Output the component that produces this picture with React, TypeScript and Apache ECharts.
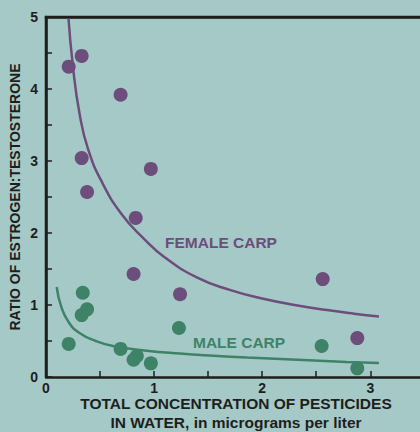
import React, { useEffect, useRef } from "react";
import * as echarts from "echarts";

// Scatter data: [pesticide concentration, E:T ratio]
const femaleX = [0.21, 0.33, 0.69, 0.33, 0.38, 0.97, 0.83, 0.81, 1.24, 2.56, 2.88];
const femaleY = [4.31, 4.46, 3.92, 3.04, 2.57, 2.89, 2.21, 1.43, 1.15, 1.36, 0.54];
const maleX = [0.21, 0.34, 0.38, 0.33, 0.69, 0.81, 0.84, 0.97, 1.23, 2.55, 2.88];
const maleY = [0.46, 1.17, 0.94, 0.86, 0.39, 0.24, 0.29, 0.19, 0.68, 0.43, 0.12];

// Fitted curves
const femaleCurveX = [0.207, 0.25, 0.31, 0.39, 0.52, 0.7, 0.9, 1.1, 1.4, 1.7, 2.0, 2.3, 2.6, 2.85, 3.08];
const femaleCurveY = [5.0, 4.3, 3.66, 3.16, 2.7, 2.26, 1.93, 1.66, 1.38, 1.21, 1.09, 1.0, 0.93, 0.88, 0.84];
const maleCurveX = [0.099, 0.14, 0.21, 0.31, 0.46, 0.62, 0.93, 1.24, 1.55, 1.86, 2.17, 2.48, 2.78, 3.08];
const maleCurveY = [1.25, 0.98, 0.76, 0.61, 0.5, 0.43, 0.365, 0.325, 0.295, 0.27, 0.25, 0.23, 0.21, 0.195];

const xTickLabels = ["0", "1", "2", "3"];
const yTickLabels = ["0", "1", "2", "3", "4", "5"];

const BG = "#a5c9c6";
const PURPLE = "#6d4d7c";
const GREEN = "#3e8367";
const INK = "#1e1e1e";
const FONT = "'Liberation Sans', Arial, sans-serif";

const zip = (xs: number[], ys: number[]) => xs.map((x, i) => [x, ys[i]]);

export default function App() {
  const ref = useRef<HTMLDivElement>(null);
  useEffect(() => {
    if (!ref.current) return;
    const chart = echarts.init(ref.current, null, { renderer: "svg" });
    const intLabel = (list: string[]) => (v: number) => {
      const s = String(v);
      return Number.isInteger(v) && list.includes(s) ? s : "";
    };
    chart.setOption({
      animation: false,
      backgroundColor: BG,
      textStyle: { fontFamily: FONT },
      grid: { left: 46, right: 0, top: 17, bottom: 55, containLabel: false, outerBoundsMode: "none" },
      xAxis: [
        {
          type: "value",
          min: 0,
          max: 3.46,
          interval: 0.5,
          splitLine: { show: false },
          axisLine: { onZero: false, lineStyle: { color: INK, width: 2.5 } },
          axisTick: { inside: true, length: 6, lineStyle: { color: INK, width: 1.5 } },
          axisLabel: {
            formatter: intLabel(xTickLabels),
            color: INK,
            fontWeight: "bold",
            fontSize: 14,
            lineHeight: 14,
            fontFamily: FONT,
            margin: 4,
            showMaxLabel: false,
          },
          name: "TOTAL CONCENTRATION OF PESTICIDES\nIN WATER, in micrograms per liter",
          nameLocation: "middle",
          nameGap: 17,
          nameMoveOverlap: false,
          nameTextStyle: {
            color: INK,
            fontWeight: "bold",
            fontSize: 15.5,
            lineHeight: 19,
            fontFamily: FONT,
            padding: [0, 0, 0, 6],
          },
        },
        {
          type: "value",
          position: "top",
          min: 0,
          max: 3.46,
          splitLine: { show: false },
          axisLine: { show: true, onZero: false, lineStyle: { color: INK, width: 2.5 } },
          axisTick: { show: false },
          axisLabel: { show: false },
        },
      ],
      yAxis: {
        type: "value",
        min: 0,
        max: 5,
        interval: 0.5,
        splitLine: { show: false },
        axisLine: { show: true, onZero: false, lineStyle: { color: INK, width: 2.5 } },
        axisTick: { show: true, inside: true, length: 6, lineStyle: { color: INK, width: 1.5 } },
        axisLabel: {
          formatter: intLabel(yTickLabels),
          color: INK,
          fontWeight: "bold",
          fontSize: 14,
          fontFamily: FONT,
          margin: 8,
        },
        name: "RATIO OF ESTROGEN:TESTOSTERONE",
        nameLocation: "middle",
        nameGap: 24,
        nameMoveOverlap: false,
        nameTextStyle: { color: INK, fontWeight: "bold", fontSize: 14, fontFamily: FONT },
      },
      series: [
        {
          type: "line",
          data: zip(femaleCurveX, femaleCurveY),
          smooth: 0.5,
          showSymbol: false,
          lineStyle: { color: PURPLE, width: 2.5 },
          z: 2,
        },
        {
          type: "line",
          data: zip(maleCurveX, maleCurveY),
          smooth: 0.5,
          showSymbol: false,
          lineStyle: { color: GREEN, width: 2.5 },
          z: 2,
        },
        {
          type: "scatter",
          data: zip(femaleX, femaleY),
          symbolSize: 14,
          itemStyle: { color: PURPLE, opacity: 1 },
          z: 3,
        },
        {
          type: "scatter",
          data: zip(maleX, maleY),
          symbolSize: 14,
          itemStyle: { color: GREEN, opacity: 1 },
          z: 3,
        },
      ],
      graphic: [
        {
          type: "line",
          shape: { x1: 44.75, y1: 17, x2: 420, y2: 17 },
          style: { stroke: INK, lineWidth: 2.5 },
          z: 10,
        },
        {
          type: "line",
          shape: { x1: 46, y1: 17, x2: 46, y2: 377 },
          style: { stroke: INK, lineWidth: 2.5 },
          z: 10,
        },
        {
          type: "text",
          left: 165,
          top: 234,
          style: { text: "FEMALE CARP", fill: PURPLE, font: `bold 15.5px ${FONT}` },
        },
        {
          type: "text",
          left: 193,
          top: 334,
          style: { text: "MALE CARP", fill: GREEN, font: `bold 15.5px ${FONT}` },
        },
      ],
    });
    return () => chart.dispose();
  }, []);
  return (
    <div
      ref={ref}
      style={{ position: "fixed", left: 0, top: 0, width: 420, height: 432, background: BG }}
    />
  );
}
